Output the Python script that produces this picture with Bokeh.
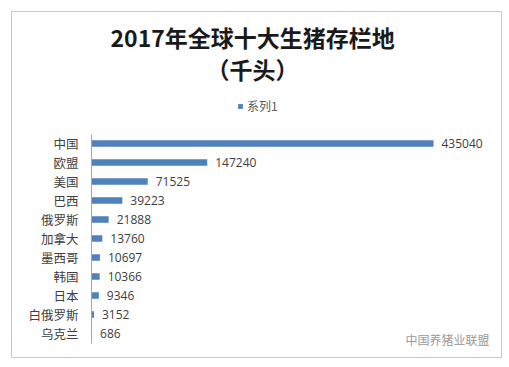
from bokeh.plotting import figure
from bokeh.models import (ColumnDataSource, Range1d, Title, Legend, LegendItem, Label,
                          FixedTicker)
from bokeh.embed import file_html
from bokeh.resources import INLINE

countries = ["中国", "欧盟", "美国", "巴西", "俄罗斯", "加拿大", "墨西哥", "韩国", "日本", "白俄罗斯", "乌克兰"]
stocks = [435040, 147240, 71525, 39223, 21888, 13760, 10697, 10366, 9346, 3152, 686]
series_name = "系列1"
title_line1 = "2017年全球十大生猪存栏地"
title_line2 = "（千头）"
watermark = "中国养猪业联盟"

CJK = "Noto Sans CJK SC"
n = len(countries)
ypos = [n - 1 - i for i in range(n)]
src = ColumnDataSource(dict(y=ypos, stock=stocks, label=[str(v) for v in stocks]))

p = figure(width=489, height=345,
           y_range=Range1d(-1.0, 12.37),
           x_range=Range1d(0, 515170),
           x_axis_location=None,
           output_backend="svg", toolbar_location=None, title=None,
           min_border_left=79, min_border_right=5, min_border_bottom=5, min_border_top=86)
p.styles = {"margin-left": "12px", "margin-top": "12px", "outline": "1px solid #c8c8c8"}

r = p.hbar(y="y", right="stock", height=0.34, source=src,
           fill_color="#4F81BD", line_color=None)
p.text(x="stock", y="y", text="label", source=src, x_offset=8,
       text_baseline="middle", text_align="left", text_font_size="12px",
       text_color="#404040", text_font={"value": "Open Sans"})

p.xgrid.visible = False
p.ygrid.visible = False
p.outline_line_color = None
ax = p.yaxis[0]
ax.ticker = FixedTicker(ticks=ypos)
ax.major_label_overrides = {y: c for y, c in zip(ypos, countries)}
ax.bounds = (-0.5, n - 0.5)
ax.axis_line_color = "#a6a6a6"
ax.major_tick_line_color = None
ax.minor_tick_line_color = None
ax.major_tick_out = 0
ax.major_tick_in = 0
ax.major_label_standoff = 13
ax.major_label_text_font = CJK
ax.major_label_text_font_size = "12.5px"
ax.major_label_text_color = "#404040"

legend = Legend(items=[LegendItem(label=series_name, renderers=[r])],
                location=(146, 238), orientation="horizontal",
                glyph_width=6, glyph_height=6, label_height=14, label_width=20,
                label_text_font=CJK, label_text_font_size="12px",
                label_text_color="#595959", label_standoff=4,
                border_line_color=None, background_fill_alpha=0,
                padding=0, margin=0)
p.add_layout(legend, "center")
p.add_layout(Title(text=title_line2, align="left", offset=115, standoff=25,
                   text_font=CJK, text_font_size="23px",
                   text_font_style="bold", text_color="#1a1a1a"), "above")
p.add_layout(Title(text=title_line1, align="left", offset=19, standoff=-32,
                   text_font=CJK, text_font_size="23px",
                   text_font_style="bold", text_color="#1a1a1a"), "above")

p.add_layout(Label(x=314, y=13, x_units="screen", y_units="screen", text=watermark,
                   text_baseline="middle", text_font=CJK, text_font_size="12px",
                   text_color="#9a9a9a"))

open("out.html", "w").write(file_html(p, INLINE))
